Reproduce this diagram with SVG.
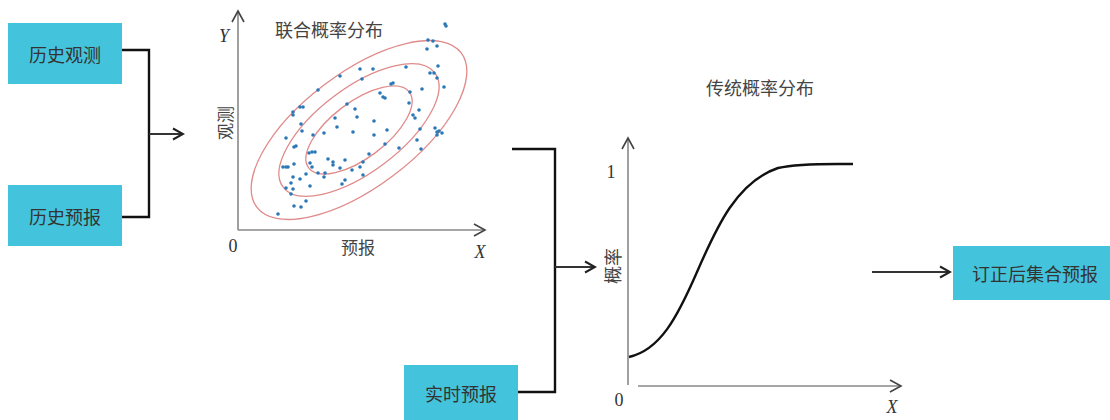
<svg xmlns="http://www.w3.org/2000/svg" width="1110" height="420" viewBox="0 0 1110 420">
<style>
.box{fill:#44c4dc}
.bt{font-family:"Noto Sans CJK SC","Noto Sans",sans-serif;font-size:18px;fill:#333;text-anchor:middle;dominant-baseline:central}
.cn{font-family:"Noto Sans CJK SC",serif;font-size:17px;fill:#444;text-anchor:middle;dominant-baseline:central}
.lat{font-family:"Liberation Serif",serif;font-size:18px;fill:#333;text-anchor:middle;dominant-baseline:central}
.it{font-style:italic}
.axis{stroke:#888;stroke-width:1.6;fill:none}
.ah{stroke:#444;stroke-width:1.8;fill:none}
.conn{stroke:#111;stroke-width:2.4;fill:none}
.arr{stroke:#333;stroke-width:2;fill:none}
.ell{stroke:#e08a8a;stroke-width:1.3;fill:none}
.dot{fill:#2b78b8}
</style>
<defs>
<marker id="open" markerWidth="14" markerHeight="14" refX="12" refY="7" orient="auto" markerUnits="userSpaceOnUse">
<path d="M2,1.5 L12,7 L2,12.5" stroke="#222" stroke-width="2" fill="none"/>
</marker>
<marker id="axm" markerWidth="16" markerHeight="16" refX="13" refY="8" orient="auto" markerUnits="userSpaceOnUse">
<path d="M2,2 L13,8 L2,14" stroke="#444" stroke-width="1.6" fill="none"/>
</marker>
</defs>

<g id="n-obs"><rect class="box" x="8" y="23" width="114" height="61"/><text class="bt" x="65" y="54">历史观测</text></g>
<g id="n-fc"><rect class="box" x="8" y="185" width="114" height="61"/><text class="bt" x="65" y="216">历史预报</text></g>
<g id="n-rt"><rect class="box" x="404" y="365" width="114" height="55"/><text class="bt" x="461" y="393">实时预报</text></g>
<g id="n-out"><rect class="box" x="953" y="246" width="157" height="54"/><text class="bt" x="1035" y="273">订正后集合预报</text></g>

<g id="joint">
<line class="axis" x1="238" y1="230" x2="238" y2="11" marker-end="url(#axm)"/>
<line class="axis" x1="238" y1="230" x2="485" y2="230" marker-end="url(#axm)"/>
<text class="lat it" x="224" y="36">Y</text>
<text class="lat" x="233" y="246">0</text>
<text class="lat it" x="480" y="252">X</text>
<text class="cn" x="329" y="29" style="font-size:18px">联合概率分布</text>
<text class="cn" x="358" y="246">预报</text>
<text class="cn" x="224" y="123" transform="rotate(-90 224 123)">观测</text>
<g transform="translate(359 130) rotate(-37)">
<ellipse class="ell" cx="0" cy="0" rx="128" ry="57"/>
<ellipse class="ell" cx="0" cy="0" rx="95" ry="42"/>
<ellipse class="ell" cx="0" cy="0" rx="63" ry="28"/>
</g>
<g class="dot">
<circle cx="445" cy="24" r="1.8"/><circle cx="446" cy="26" r="1.8"/>
<circle cx="428" cy="40" r="1.8"/><circle cx="433" cy="41" r="1.8"/><circle cx="427" cy="49" r="1.8"/><circle cx="437" cy="46" r="1.8"/>
<circle cx="438" cy="66" r="1.8"/><circle cx="430" cy="73" r="1.8"/><circle cx="434" cy="73" r="1.8"/><circle cx="437" cy="78" r="1.8"/>
<circle cx="444" cy="87" r="1.8"/><circle cx="422" cy="89" r="1.8"/><circle cx="406" cy="67" r="1.8"/><circle cx="373" cy="69" r="1.8"/>
<circle cx="360" cy="69" r="1.8"/><circle cx="362" cy="79" r="1.8"/><circle cx="340" cy="76" r="1.8"/><circle cx="318" cy="90" r="1.8"/>
<circle cx="393" cy="83" r="1.8"/><circle cx="391" cy="84" r="1.8"/><circle cx="380" cy="93" r="1.8"/><circle cx="383" cy="97" r="1.8"/>
<circle cx="385" cy="98" r="1.8"/><circle cx="410" cy="92" r="1.8"/><circle cx="409" cy="103" r="1.8"/><circle cx="419" cy="110" r="1.8"/>
<circle cx="413" cy="115" r="1.8"/><circle cx="415" cy="118" r="1.8"/><circle cx="347" cy="104" r="1.8"/><circle cx="355" cy="109" r="1.8"/>
<circle cx="357" cy="117" r="1.8"/><circle cx="335" cy="118" r="1.8"/><circle cx="337" cy="127" r="1.8"/><circle cx="324" cy="133" r="1.8"/>
<circle cx="353" cy="132" r="1.8"/><circle cx="374" cy="121" r="1.8"/><circle cx="374" cy="135" r="1.8"/><circle cx="387" cy="130" r="1.8"/>
<circle cx="385" cy="144" r="1.8"/><circle cx="399" cy="148" r="1.8"/><circle cx="420" cy="129" r="1.8"/><circle cx="435" cy="128" r="1.8"/>
<circle cx="437" cy="132" r="1.8"/><circle cx="439" cy="131" r="1.8"/><circle cx="437" cy="135" r="1.8"/><circle cx="442" cy="133" r="1.8"/>
<circle cx="417" cy="140" r="1.8"/><circle cx="421" cy="149" r="1.8"/><circle cx="369" cy="154" r="1.8"/><circle cx="363" cy="162" r="1.8"/>
<circle cx="360" cy="167" r="1.8"/><circle cx="345" cy="160" r="1.8"/><circle cx="333" cy="162" r="1.8"/><circle cx="333" cy="165" r="1.8"/>
<circle cx="328" cy="159" r="1.8"/><circle cx="340" cy="168" r="1.8"/><circle cx="352" cy="170" r="1.8"/><circle cx="363" cy="175" r="1.8"/>
<circle cx="345" cy="180" r="1.8"/><circle cx="342" cy="184" r="1.8"/><circle cx="325" cy="173" r="1.8"/><circle cx="324" cy="177" r="1.8"/>
<circle cx="318" cy="173" r="1.8"/><circle cx="315" cy="152" r="1.8"/><circle cx="312" cy="152" r="1.8"/><circle cx="309" cy="153" r="1.8"/>
<circle cx="310" cy="163" r="1.8"/><circle cx="312" cy="167" r="1.8"/><circle cx="313" cy="135" r="1.8"/><circle cx="302" cy="131" r="1.8"/>
<circle cx="301" cy="124" r="1.8"/><circle cx="293" cy="112" r="1.8"/><circle cx="293" cy="115" r="1.8"/><circle cx="300" cy="107" r="1.8"/>
<circle cx="303" cy="107" r="1.8"/><circle cx="286" cy="138" r="1.8"/><circle cx="294" cy="147" r="1.8"/><circle cx="296" cy="146" r="1.8"/>
<circle cx="283" cy="167" r="1.8"/><circle cx="286" cy="167" r="1.8"/><circle cx="288" cy="167" r="1.8"/><circle cx="294" cy="164" r="1.8"/>
<circle cx="300" cy="179" r="1.8"/><circle cx="306" cy="174" r="1.8"/><circle cx="310" cy="186" r="1.8"/><circle cx="291" cy="183" r="1.8"/>
<circle cx="293" cy="177" r="1.8"/><circle cx="286" cy="188" r="1.8"/><circle cx="293" cy="189" r="1.8"/><circle cx="306" cy="201" r="1.8"/>
<circle cx="294" cy="206" r="1.8"/><circle cx="301" cy="207" r="1.8"/><circle cx="278" cy="214" r="1.8"/><circle cx="291" cy="194" r="1.8"/>
</g>
</g>

<g id="trad">
<line class="axis" x1="628" y1="385" x2="628" y2="138" marker-end="url(#axm)"/>
<line class="axis" x1="638" y1="386" x2="901" y2="386" marker-end="url(#axm)"/>
<text class="cn" x="760" y="87" style="font-size:18px">传统概率分布</text>
<text class="lat" x="611" y="172">1</text>
<text class="lat" x="619" y="400">0</text>
<text class="lat it" x="892" y="407">X</text>
<text class="cn" x="612" y="266" transform="rotate(-90 612 266)" style="font-size:18px">概率</text>
<path d="M629,357 C660,350 677,318 697,272 C717,226 737,182 778,168 C800,163 830,164 853,164" stroke="#111" stroke-width="2.4" fill="none"/>
</g>

<g id="connectors">
<path class="conn" d="M122,50 H149 V217 H122"/>
<line class="arr" x1="149" y1="134" x2="183" y2="134" marker-end="url(#open)"/>
<path class="conn" d="M512,149 H555 V392 H518"/>
<line class="arr" x1="555" y1="267" x2="595" y2="267" marker-end="url(#open)"/>
<line class="arr" x1="872" y1="272" x2="950" y2="272" marker-end="url(#open)"/>
</g>
</svg>
